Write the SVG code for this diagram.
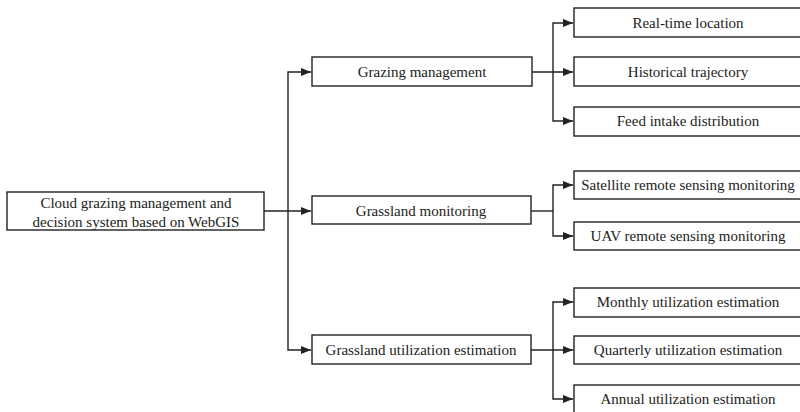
<svg xmlns="http://www.w3.org/2000/svg" width="800" height="412" viewBox="0 0 800 412">
<style>
.box{fill:#fff;stroke:#222;stroke-width:1.4}
.t{font-family:"Liberation Serif","Times New Roman",serif;font-size:15px;fill:#222;text-anchor:middle}
.c{fill:none;stroke:#222;stroke-width:1.4}
</style>
<defs>
<marker id="ah" viewBox="0 0 10 8" refX="10" refY="4" markerWidth="10" markerHeight="8" markerUnits="userSpaceOnUse" orient="auto">
<path d="M0,0 L10,4 L0,8 Z" fill="#222"/>
</marker>
</defs>
<rect width="800" height="412" fill="#fff"/>
<g id="connectors">
<path class="c" d="M264,211 H311" marker-end="url(#ah)"/>
<path class="c" d="M288,211 V72 H311" marker-end="url(#ah)"/>
<path class="c" d="M288,211 V350 H311" marker-end="url(#ah)"/>
<path class="c" d="M532,72 H573" marker-end="url(#ah)"/>
<path class="c" d="M553,72 V23 H573" marker-end="url(#ah)"/>
<path class="c" d="M553,72 V121 H573" marker-end="url(#ah)"/>
<path class="c" d="M531,211 H553"/>
<path class="c" d="M553,211 V185 H573" marker-end="url(#ah)"/>
<path class="c" d="M553,211 V236 H573" marker-end="url(#ah)"/>
<path class="c" d="M531,350 H573" marker-end="url(#ah)"/>
<path class="c" d="M553,350 V302 H573" marker-end="url(#ah)"/>
<path class="c" d="M553,350 V399 H573" marker-end="url(#ah)"/>
</g>
<g id="root">
<rect class="box" x="7" y="192" width="257" height="38"/>
<text class="t" x="136" y="208">Cloud grazing management and</text>
<text class="t" x="136" y="227">decision system based on WebGIS</text>
</g>
<g id="grazing">
<rect class="box" x="312" y="57" width="220" height="29"/>
<text class="t" x="422" y="77">Grazing management</text>
</g>
<g id="monitoring">
<rect class="box" x="312" y="196" width="219" height="28"/>
<text class="t" x="421" y="216">Grassland monitoring</text>
</g>
<g id="utilization">
<rect class="box" x="312" y="335" width="219" height="29"/>
<text class="t" x="421" y="355">Grassland utilization estimation</text>
</g>
<g id="realtime">
<rect class="box" x="574" y="8" width="230" height="29"/>
<text class="t" x="688" y="28">Real-time location</text>
</g>
<g id="historical">
<rect class="box" x="574" y="57" width="230" height="29"/>
<text class="t" x="688" y="77">Historical trajectory</text>
</g>
<g id="feed">
<rect class="box" x="574" y="107" width="230" height="29"/>
<text class="t" x="688" y="126">Feed intake distribution</text>
</g>
<g id="satellite">
<rect class="box" x="574" y="171" width="230" height="28"/>
<text class="t" x="688" y="190">Satellite remote sensing monitoring</text>
</g>
<g id="uav">
<rect class="box" x="574" y="222" width="230" height="28"/>
<text class="t" x="688" y="241">UAV remote sensing monitoring</text>
</g>
<g id="monthly">
<rect class="box" x="574" y="288" width="230" height="29"/>
<text class="t" x="688" y="307">Monthly utilization estimation</text>
</g>
<g id="quarterly">
<rect class="box" x="574" y="336" width="230" height="28"/>
<text class="t" x="688" y="355">Quarterly utilization estimation</text>
</g>
<g id="annual">
<rect class="box" x="574" y="385" width="230" height="30"/>
<text class="t" x="688" y="404">Annual utilization estimation</text>
</g>
</svg>
